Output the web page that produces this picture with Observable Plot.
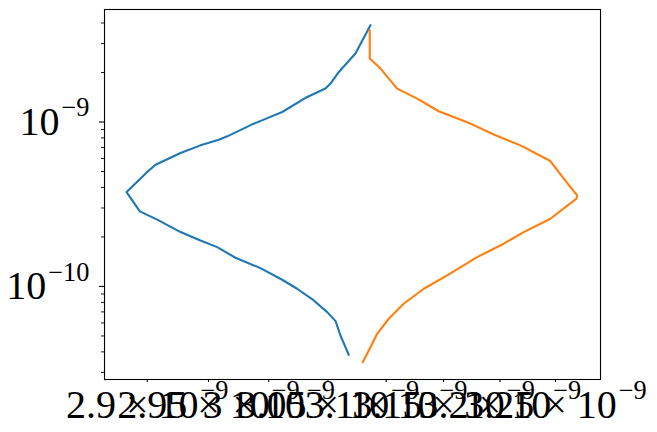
<!DOCTYPE html>
<html>
<head>
<meta charset="utf-8">
<script src="https://cdn.jsdelivr.net/npm/d3@7"></script>
<script src="https://cdn.jsdelivr.net/npm/@observablehq/plot@0.6"></script>
<style>
  html, body { margin: 0; padding: 0; background: #fff; }
  #chart { width: 657px; height: 432px; }
</style>
</head>
<body>
<div id="chart"></div>
<script>
// Blue series (x, y)
const blueX = [3.0864e-9, 3.0735e-9, 3.0593e-9, 3.0522e-9, 3.0479e-9, 3.0324e-9, 3.0113e-9, 2.9959e-9, 2.9862e-9, 2.9655e-9,
               2.9585e-9, 2.9434e-9, 2.9271e-9, 2.9067e-9, 2.9000e-9, 2.8833e-9, 2.8940e-9, 2.9081e-9, 2.9271e-9, 2.9434e-9,
               2.9572e-9, 2.9723e-9, 2.9931e-9, 3.0113e-9, 3.0239e-9, 3.0380e-9, 3.0494e-9, 3.0565e-9, 3.0607e-9, 3.0678e-9];
const blueY = [3.88e-9, 2.608e-9, 2.016e-9, 1.713e-9, 1.597e-9, 1.420e-9, 1.150e-9, 1.034e-9, 0.968e-9, 0.818e-9,
               0.781e-9, 0.721e-9, 0.648e-9, 0.550e-9, 0.496e-9, 0.375e-9, 0.286e-9, 0.2547e-9, 0.2141e-9, 0.1905e-9,
               0.1734e-9, 0.1495e-9, 0.1292e-9, 0.1098e-9, 0.0968e-9, 0.0822e-9, 0.0698e-9, 0.0615e-9, 0.0503e-9, 0.0384e-9];
// Orange series (x, y)
const orangeX = [3.0858e-9, 3.0858e-9, 3.0951e-9, 3.1095e-9, 3.1269e-9, 3.1458e-9, 3.1738e-9, 3.1960e-9, 3.2184e-9, 3.2454e-9,
                 3.2575e-9, 3.2697e-9, 3.2691e-9, 3.2454e-9, 3.2213e-9, 3.2034e-9, 3.1797e-9, 3.1532e-9, 3.1327e-9, 3.1152e-9,
                 3.1022e-9, 3.0922e-9, 3.0864e-9, 3.0798e-9];
const orangeY = [3.614e-9, 2.432e-9, 2.113e-9, 1.597e-9, 1.388e-9, 1.162e-9, 0.978e-9, 0.830e-9, 0.721e-9, 0.579e-9,
                 0.452e-9, 0.358e-9, 0.342e-9, 0.258e-9, 0.2141e-9, 0.1819e-9, 0.1508e-9, 0.1167e-9, 0.0968e-9, 0.0785e-9,
                 0.0636e-9, 0.0515e-9, 0.0427e-9, 0.0346e-9];

// Axis ticks and labels
const xTicks = [2.9e-9, 2.95e-9, 3e-9, 3.05e-9, 3.1e-9, 3.15e-9, 3.2e-9, 3.25e-9];
const xTickLabels = ["2.9 × 10^-9", "2.95 × 10^-9", "3 × 10^-9", "3.05 × 10^-9", "3.1 × 10^-9", "3.15 × 10^-9", "3.2 × 10^-9", "3.25 × 10^-9"];
const yTicks = [1e-10, 1e-9];
const yTickLabels = ["10^-10", "10^-9"];
const yMinorTicks = [3e-11, 4e-11, 5e-11, 6e-11, 7e-11, 8e-11, 9e-11,
                     2e-10, 3e-10, 4e-10, 5e-10, 6e-10, 7e-10, 8e-10, 9e-10,
                     2e-9, 3e-9, 4e-9];
const xDomain = [2.8656e-9, 3.2911e-9];
const yDomain = [2.717e-11, 4.832e-9];

const blue = blueX.map((x, i) => ({x, y: blueY[i]}));
const orange = orangeX.map((x, i) => ({x, y: orangeY[i]}));

const FS = 40;
const plot = Plot.plot({
  width: 657,
  height: 432,
  marginLeft: 104,
  marginRight: 57,
  marginTop: 9,
  marginBottom: 53,
  style: {fontFamily: "'Liberation Serif', serif", background: "#fff", color: "#000"},
  x: {type: "log", domain: xDomain, label: null},
  y: {type: "log", domain: yDomain, label: null},
  marks: [
    Plot.line(blue, {x: "x", y: "y", stroke: "#1f77b4", strokeWidth: 2.1}),
    Plot.line(orange, {x: "x", y: "y", stroke: "#ff7f0e", strokeWidth: 2.1}),
    Plot.axisX({ticks: xTicks, tickSize: 3, tickPadding: 7, strokeWidth: 1.1, fontSize: FS,
                tickFormat: (d) => xTickLabels[xTicks.indexOf(d)]}),
    Plot.axisY({ticks: yTicks, tickSize: 5, tickPadding: 10, strokeWidth: 1.1, fontSize: FS,
                tickFormat: (d) => yTickLabels[yTicks.indexOf(d)]}),
    Plot.axisY({ticks: yMinorTicks, tickSize: 3, strokeWidth: 0.9, text: null}),
    Plot.frame({stroke: "#000", strokeWidth: 1.1})
  ]
});

const NS = "http://www.w3.org/2000/svg";
plot.querySelectorAll("text").forEach((t) => {
  const s = t.textContent;
  if (!s.includes("^")) return;
  const [base, exp] = s.split("^");
  t.textContent = "";
  const a = document.createElementNS(NS, "tspan");
  a.textContent = base;
  const b = document.createElementNS(NS, "tspan");
  b.setAttribute("font-size", "66%");
  b.setAttribute("dy", "-0.7em");
  b.setAttribute("dx", "2");
  b.textContent = exp.replace("-", "\u2212");
  t.appendChild(a);
  t.appendChild(b);
});

document.getElementById("chart").appendChild(plot);
</script>
</body>
</html>
